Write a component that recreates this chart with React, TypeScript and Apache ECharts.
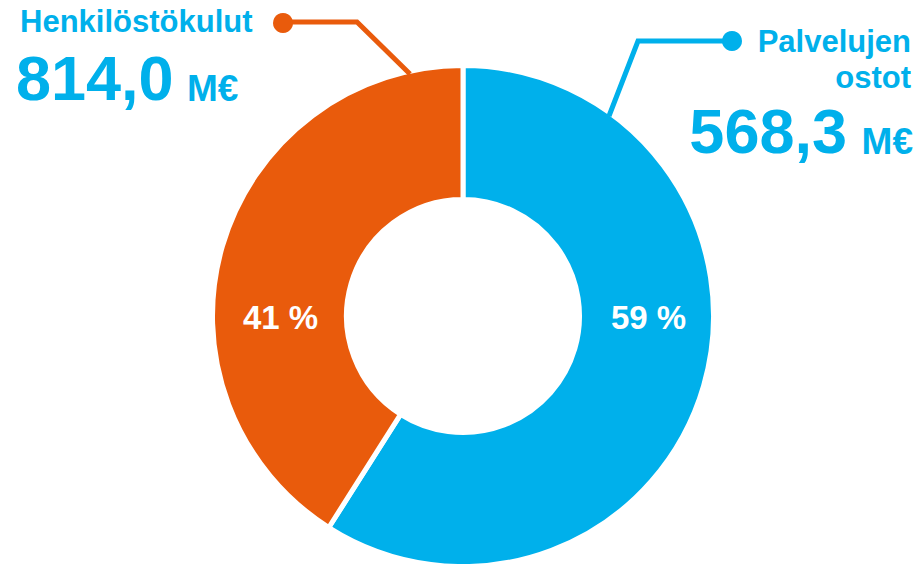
import React, { useEffect, useRef } from "react";
import * as echarts from "echarts";

const categories = ["Palvelujen ostot", "Henkilöstökulut"];
const shares = [59, 41];
const amounts = ["568,3", "814,0"];
const unit = "M€";

const BLUE = "#00B0EB";
const ORANGE = "#E95B0C";
const FONT = "'Liberation Sans', Arial, Helvetica, sans-serif";

const CX = 463;
const CY = 316;
const R_OUT = 250.5;
const R_IN = 116.5;
const BORDER = 5;

export default function App() {
  const ref = useRef<HTMLDivElement>(null);
  useEffect(() => {
    if (!ref.current) return;
    const chart = echarts.init(ref.current, null, { renderer: "svg" });
    const midR = (R_OUT - BORDER / 2 + R_IN + BORDER / 2) / 2;
    const txt = (
      text: string,
      x: number,
      y: number,
      size: number,
      align: string
    ) => ({
      type: "text",
      x,
      y,
      style: {
        text,
        fill: BLUE,
        font: `bold ${size}px ${FONT}`,
        align,
        verticalAlign: "middle",
      },
      z: 10,
    });
    chart.setOption({
      animation: false,
      backgroundColor: "#ffffff",
      series: [
        {
          type: "pie",
          center: [CX, CY],
          radius: [R_IN, R_OUT],
          startAngle: 90,
          clockwise: true,
          silent: true,
          itemStyle: { borderColor: "#ffffff", borderWidth: BORDER },
          label: {
            show: true,
            position: "inside",
            formatter: "{c} %",
            color: "#ffffff",
            fontFamily: FONT,
            fontWeight: "bold",
            fontSize: 33,
          },
          labelLine: { show: false },
          labelLayout: (p: any) => ({
            x: p.dataIndex === 0 ? CX + midR + 2 : CX - midR + 1,
            y: CY + 1,
            align: "center",
            verticalAlign: "middle",
          }),
          data: categories.map((name, i) => ({
            name,
            value: shares[i],
            itemStyle: { color: i === 0 ? BLUE : ORANGE },
          })),
        },
      ],
      graphic: [
        {
          type: "polyline",
          shape: { points: [[283, 22], [357, 22], [410, 74]] },
          style: { stroke: ORANGE, lineWidth: 5, fill: "none" },
          z: 5,
        },
        {
          type: "circle",
          shape: { cx: 283, cy: 23, r: 10 },
          style: { fill: ORANGE },
          z: 5,
        },
        {
          type: "polyline",
          shape: { points: [[732, 41], [638, 41], [609, 116]] },
          style: { stroke: BLUE, lineWidth: 5, fill: "none" },
          z: 5,
        },
        {
          type: "circle",
          shape: { cx: 732, cy: 41, r: 10 },
          style: { fill: BLUE },
          z: 5,
        },
        txt(categories[1], 20, 21.5, 31, "left"),
        txt(amounts[1], 16, 78, 63, "left"),
        txt(unit, 187, 88.5, 37, "left"),
        txt("Palvelujen", 911, 41.5, 31, "right"),
        txt("ostot", 911, 77.5, 31, "right"),
        txt(amounts[0], 847, 131, 63, "right"),
        txt(unit, 913, 141.5, 37, "right"),
      ],
    });
    return () => chart.dispose();
  }, []);
  return (
    <div
      ref={ref}
      style={{
        position: "fixed",
        left: 0,
        top: 0,
        width: 919,
        height: 564,
        background: "#fff",
      }}
    />
  );
}
